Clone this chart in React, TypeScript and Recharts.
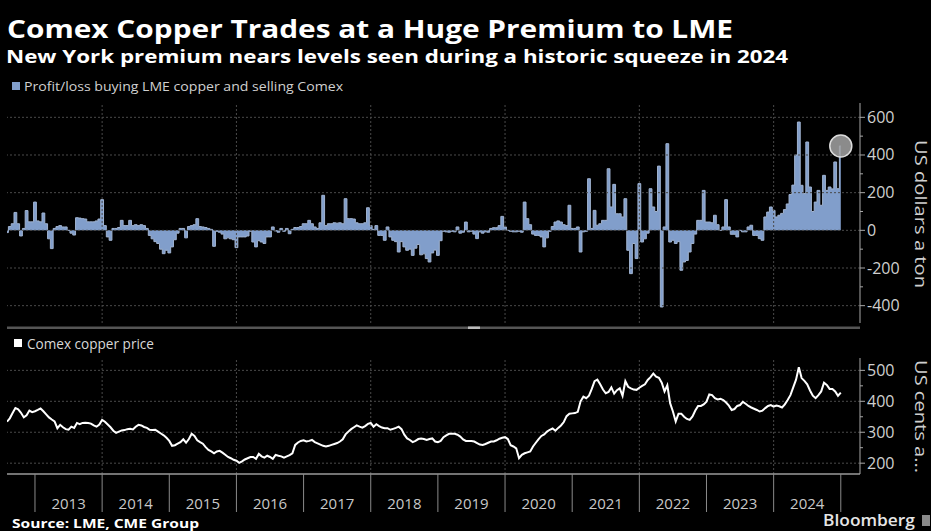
import React from 'react';
import {
  ComposedChart,
  LineChart,
  Area,
  Line,
  XAxis,
  YAxis,
  ReferenceLine,
  ReferenceDot,
} from 'recharts';

// ---------- DATA (semi-monthly readings, 24 per year) ----------
const years = [2012, 2013, 2014, 2015, 2016, 2017, 2018, 2019, 2020, 2021, 2022, 2023, 2024, 2025];
const firstHalfMonth: Record<number, number> = { 2012: 14 };

// Profit/loss buying LME copper and selling Comex (US$ a ton)
const premium2012 = [-12, 20, 35, 95, 35, -30, 10, 105, 45, 45];
const premium2013 = [150, 50, 45, 92, 35, -45, -97, 10, 20, 25, 18, 18, 0, -15, -25, 67, 65, 62, 60, 45, 45, 45, 50, 60];
const premium2014 = [163, 25, -35, -53, 10, 10, 15, 53, 25, 25, 53, 25, 30, 25, 30, 25, 10, -27, -45, -60, -70, -100, -124, -106];
const premium2015 = [-120, -88, -50, -15, 10, 10, -40, 20, 25, 30, 62, 20, 18, 15, 10, 5, -85, -5, -10, -20, -45, -40, -45, -50];
const premium2016 = [-92, -35, -35, -35, -30, -5, -62, -88, -55, -62, -70, -35, -35, 18, -3, -10, 10, -5, 10, -18, 5, 15, 15, 20];
const premium2017 = [35, 35, 53, 35, 18, 10, 40, 186, 25, 35, 35, 40, 38, 40, 35, 168, 62, 62, 60, 40, 35, 35, 40, 120];
const premium2018 = [25, 5, 25, -27, -27, -53, 18, -35, -53, -60, -115, -60, -88, -106, -100, -133, -95, -75, -130, -125, -150, -168, -120, -105];
const premium2019 = [-133, -55, -5, -8, -10, -5, -8, 18, -15, -10, 44, -8, -5, -20, -44, -8, -15, -8, -10, 10, 14, 14, 25, 74];
const premium2020 = [18, 0, -5, -8, -8, -5, -10, 150, 62, 30, -20, -27, -27, -35, -88, -40, -5, 20, 44, 50, 44, 30, 25, 133];
const premium2021 = [10, 10, 18, -115, -8, -5, 274, 10, 106, 27, 35, 53, 53, 327, 124, 244, 88, 88, 71, 168, -106, -230, -70, -150];
const premium2022 = [248, -62, -45, -15, 221, 124, 100, 341, -407, 18, 460, -62, -53, -70, -60, -212, -168, -160, -115, -70, -20, 53, 53, 212];
const premium2023 = [44, 44, 40, 80, 30, 0, 18, 163, 18, -21, -21, -35, 0, -8, -8, 18, 27, -27, -27, -44, -53, 71, 97, 124];
const premium2024 = [106, 71, 80, 90, 110, 140, 190, 240, 400, 575, 239, 195, 469, 230, 100, 150, 212, 133, 292, 212, 230, 220, 363, 221];
const premium2025 = [448];

// Comex copper price (US cents a pound)
const copper2012 = [334, 345, 362, 378, 374, 363, 348, 355, 370, 365];
const copper2013 = [368, 372, 377, 368, 358, 348, 341, 335, 313, 324, 316, 310, 308, 318, 314, 330, 326, 330, 331, 330, 328, 322, 318, 325];
const copper2014 = [340, 334, 325, 316, 305, 298, 302, 306, 307, 310, 311, 309, 318, 324, 322, 317, 314, 308, 307, 308, 302, 296, 290, 282];
const copper2015 = [272, 256, 258, 263, 268, 277, 266, 278, 295, 288, 274, 268, 263, 252, 243, 238, 232, 238, 240, 234, 227, 220, 216, 211];
const copper2016 = [208, 201, 206, 212, 216, 220, 220, 214, 230, 222, 218, 224, 220, 214, 227, 224, 222, 218, 222, 226, 232, 259, 267, 272];
const copper2017 = [274, 270, 272, 275, 268, 264, 260, 256, 254, 256, 259, 262, 265, 270, 277, 293, 302, 310, 316, 322, 318, 315, 320, 327];
const copper2018 = [330, 318, 326, 320, 315, 313, 313, 308, 311, 314, 318, 310, 292, 280, 275, 268, 272, 278, 280, 278, 275, 278, 280, 270];
const copper2019 = [268, 272, 284, 290, 295, 295, 295, 292, 286, 277, 272, 272, 272, 270, 265, 260, 259, 262, 266, 270, 270, 274, 279, 282];
const copper2020 = [284, 278, 258, 254, 248, 216, 227, 232, 235, 238, 254, 266, 278, 288, 293, 302, 308, 312, 305, 314, 322, 333, 352, 360];
const copper2021 = [361, 362, 366, 400, 415, 410, 418, 440, 465, 470, 455, 438, 426, 430, 445, 425, 436, 442, 418, 465, 447, 442, 438, 437];
const copper2022 = [444, 450, 455, 469, 478, 490, 480, 476, 460, 432, 452, 394, 367, 335, 360, 360, 350, 343, 340, 351, 370, 385, 385, 390];
const copper2023 = [399, 422, 420, 410, 406, 408, 404, 396, 386, 372, 375, 385, 388, 398, 392, 385, 380, 376, 372, 367, 370, 378, 385, 388];
const copper2024 = [383, 386, 384, 380, 390, 404, 420, 445, 470, 510, 475, 466, 455, 435, 418, 410, 420, 432, 460, 453, 440, 440, 432, 418];
const copper2025 = [428];

const premiumByYear: Record<number, number[]> = {
  2012: premium2012, 2013: premium2013, 2014: premium2014, 2015: premium2015, 2016: premium2016,
  2017: premium2017, 2018: premium2018, 2019: premium2019, 2020: premium2020, 2021: premium2021,
  2022: premium2022, 2023: premium2023, 2024: premium2024, 2025: premium2025,
};
const copperByYear: Record<number, number[]> = {
  2012: copper2012, 2013: copper2013, 2014: copper2014, 2015: copper2015, 2016: copper2016,
  2017: copper2017, 2018: copper2018, 2019: copper2019, 2020: copper2020, 2021: copper2021,
  2022: copper2022, 2023: copper2023, 2024: copper2024, 2025: copper2025,
};

const yearTicks = [2013, 2014, 2015, 2016, 2017, 2018, 2019, 2020, 2021, 2022, 2023, 2024, 2025];
const gridYears = [2014, 2016, 2018, 2020, 2022, 2024];
const premiumTicks = [-400, -300, -200, -100, 0, 100, 200, 300, 400, 500, 600];
const premiumGrid = [-400, -200, 0, 200, 400, 600];
const copperTicks = [200, 250, 300, 350, 400, 450, 500];
const copperGrid = [200, 300, 400, 500];

const xDomain = [2012 + 14 / 24, 2025.286];
const premiumDomain = [-492, 676];
const copperDomain = [165, 540];

type Row = { t: number; premium: number; copper: number };
const rows: Row[] = [];
for (const y of years) {
  const p = premiumByYear[y];
  const c = copperByYear[y];
  const start = firstHalfMonth[y] ?? 0;
  for (let i = 0; i < p.length; i++) {
    rows.push({ t: y + (start + i) / 24, premium: p[i], copper: c[i] });
  }
}
const last = rows[rows.length - 1];

// ---------- STYLE ----------
const FONT = '"Open Sans", "DejaVu Sans", sans-serif';
const GRID = '#4a4a4a';
const AXIS = '#a8a8a8';
const LABEL = '#cfcfcf';

const makeYTick = (major: number) => (props: any) => {
  const { x, y, payload } = props;
  const v = payload.value as number;
  const isMajor = v % major === 0;
  return (
    <g>
      <line x1={x} x2={x + (isMajor ? 5 : 3)} y1={y} y2={y} stroke={AXIS} strokeWidth={1} />
      {isMajor && (
        <text x={x + 7} y={y + 5.5} fill={LABEL} fontSize={16} fontFamily={FONT}>
          {v}
        </text>
      )}
    </g>
  );
};

const XTick = (props: any) => {
  const { x, y, payload } = props;
  const v = payload.value as number;
  return (
    <g>
      <line x1={x} x2={x} y1={y} y2={y + 38} stroke="#8a8a8a" strokeWidth={1} />
      {v < 2025 && (
        <text x={x + 33.6} y={y + 35} textAnchor="middle" fill="#c8c8c8" fontSize={15} fontFamily={FONT}>
          {v}
        </text>
      )}
    </g>
  );
};

const W = 931;
const H = 531;

export default function App() {
  return (
    <div
      style={{
        position: 'absolute',
        left: 0,
        top: 0,
        width: W,
        height: H,
        background: '#000',
        overflow: 'hidden',
      }}
    >
      {/* Top panel: premium */}
      <div style={{ position: 'absolute', left: 0, top: 0 }}>
        <ComposedChart width={W} height={H} data={rows} margin={{ top: 103, right: 0, bottom: 208, left: 7 }}>
          <XAxis dataKey="t" type="number" domain={xDomain} allowDataOverflow hide />
          <YAxis
            orientation="right"
            width={71}
            type="number"
            domain={premiumDomain}
            allowDataOverflow
            ticks={premiumTicks}
            interval={0}
            axisLine={{ stroke: AXIS, strokeWidth: 1 }}
            tickLine={false}
            tickSize={0}
            tickMargin={0}
            tick={makeYTick(200)}
          />
          {premiumGrid.map((v) => (
            <ReferenceLine key={'pg' + v} y={v} stroke={GRID} strokeDasharray="2 2" />
          ))}
          {gridYears.map((v) => (
            <ReferenceLine key={'px' + v} x={v} stroke={GRID} strokeDasharray="2 2" />
          ))}
          <Area
            dataKey="premium"
            type="step"
            baseValue={0}
            fill="#819ecb"
            fillOpacity={1}
            stroke="#a0b3d0"
            strokeWidth={1}
            dot={false}
            activeDot={false}
            isAnimationActive={false}
          />
          <ReferenceDot
            x={last.t}
            y={last.premium}
            r={11}
            fill="#a3a3a3"
            fillOpacity={0.85}
            stroke="#dcdcdc"
            strokeWidth={1.5}
            ifOverflow="visible"
          />
        </ComposedChart>
      </div>

      {/* Bottom panel: copper price */}
      <div style={{ position: 'absolute', left: 0, top: 0 }}>
        <LineChart width={W} height={H} data={rows} margin={{ top: 358, right: 0, bottom: 7, left: 7 }}>
          <XAxis
            dataKey="t"
            type="number"
            domain={xDomain}
            allowDataOverflow
            ticks={yearTicks}
            interval={0}
            height={50}
            axisLine={{ stroke: '#9a9a9a', strokeWidth: 1.5 }}
            tickLine={false}
            tickSize={0}
            tickMargin={0}
            tick={XTick}
          />
          <YAxis
            orientation="right"
            width={71}
            type="number"
            domain={copperDomain}
            allowDataOverflow
            ticks={copperTicks}
            interval={0}
            axisLine={{ stroke: AXIS, strokeWidth: 1 }}
            tickLine={false}
            tickSize={0}
            tickMargin={0}
            tick={makeYTick(100)}
          />
          {copperGrid.map((v) => (
            <ReferenceLine key={'cg' + v} y={v} stroke={GRID} strokeDasharray="2 2" />
          ))}
          {gridYears.map((v) => (
            <ReferenceLine key={'cx' + v} x={v} stroke={GRID} strokeDasharray="2 2" />
          ))}
          <Line
            dataKey="copper"
            type="linear"
            stroke="#ffffff"
            strokeWidth={2}
            dot={false}
            activeDot={false}
            isAnimationActive={false}
          />
        </LineChart>
      </div>

      {/* Text overlay */}
      <svg width={W} height={H} style={{ position: 'absolute', left: 0, top: 0, pointerEvents: 'none' }}>
        <text x={7} y={38} fill="#ffffff" fontFamily={FONT} fontWeight={700} fontSize={25} textLength={726} lengthAdjust="spacingAndGlyphs">
          Comex Copper Trades at a Huge Premium to LME
        </text>
        <text x={6} y={63} fill="#ffffff" fontFamily={FONT} fontWeight={700} fontSize={18} textLength={782} lengthAdjust="spacingAndGlyphs">
          New York premium nears levels seen during a historic squeeze in 2024
        </text>

        <rect x={12} y={82} width={8} height={8} fill="#819ecb" />
        <text x={24} y={91} fill="#d0d0d0" fontFamily={FONT} fontSize={13.5} textLength={319} lengthAdjust="spacingAndGlyphs">
          Profit/loss buying LME copper and selling Comex
        </text>

        {/* panel separator */}
        <rect x={7} y={326.5} width={853} height={2.5} fill="#555" />
        <rect x={468} y={326.5} width={12} height={2.5} fill="#bbb" />

        <rect x={14} y={339} width={8} height={8} fill="#ffffff" />
        <text x={27} y={349} fill="#d8d8d8" fontFamily={FONT} fontSize={14} textLength={127} lengthAdjust="spacingAndGlyphs">
          Comex copper price
        </text>

        <text
          transform="translate(915,214) rotate(90)"
          textAnchor="middle"
          fill="#cfcfcf"
          fontFamily={FONT}
          fontSize={16}
          textLength={148}
          lengthAdjust="spacingAndGlyphs"
        >
          US dollars a ton
        </text>
        <text
          transform="translate(915,416.5) rotate(90)"
          textAnchor="middle"
          fill="#cfcfcf"
          fontFamily={FONT}
          fontSize={16}
          textLength={113}
          lengthAdjust="spacingAndGlyphs"
        >
          US cents a...
        </text>

        <text x={12} y={528} fill="#ffffff" fontFamily={FONT} fontWeight={700} fontSize={12} textLength={187} lengthAdjust="spacingAndGlyphs">
          Source: LME, CME Group
        </text>
        <text x={823} y={526} fill="#e6e6e6" fontFamily={FONT} fontWeight={600} fontSize={16} textLength={92} lengthAdjust="spacingAndGlyphs">
          Bloomberg
        </text>
        <rect x={922} y={515} width={8} height={11} fill="#8a8a8a" />
      </svg>
    </div>
  );
}
